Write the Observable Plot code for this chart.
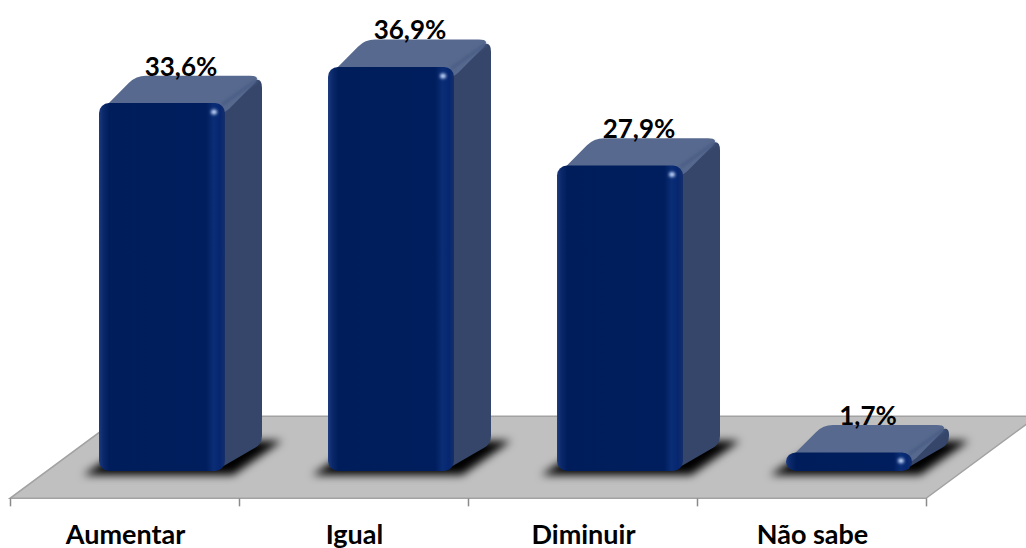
<!DOCTYPE html>
<html>
<head>
<meta charset="utf-8">
<script src="https://cdn.jsdelivr.net/npm/d3@7"></script>
<script src="https://cdn.jsdelivr.net/npm/@observablehq/plot@0.6"></script>
<style>
  html, body { margin: 0; padding: 0; background: #ffffff; overflow: hidden; }
  #chart svg { display: block; }
</style>
</head>
<body>
<div id="chart"></div>
<script>
// Survey answers and their shares (%)
const categories = ["Aumentar", "Igual", "Diminuir", "Não sabe"];
const values = [33.6, 36.9, 27.9, 1.7];
const valueLabels = ["33,6%", "36,9%", "27,9%", "1,7%"];

const data = categories.map((category, i) => ({category, value: values[i], label: valueLabels[i]}));

// Pseudo-3D depth: the floor is three column-depths deep, columns stand in the middle third
const FLOOR_DX = 111, FLOOR_DY = 82;
const DX = FLOOR_DX / 3, DY = FLOOR_DY / 3;
const NS = "http://www.w3.org/2000/svg";

function el(tag, attrs = {}, parent) {
  const node = document.createElementNS(NS, tag);
  for (const k in attrs) node.setAttribute(k, attrs[k]);
  if (parent) parent.appendChild(node);
  return node;
}

// Polygon path with rounded corners (one radius per corner)
function roundedPath(pts, radii) {
  const n = pts.length;
  let d = "";
  for (let i = 0; i < n; i++) {
    const r = Array.isArray(radii) ? radii[i] : radii;
    const p0 = pts[(i - 1 + n) % n], p1 = pts[i], p2 = pts[(i + 1) % n];
    const l1 = Math.hypot(p0[0] - p1[0], p0[1] - p1[1]);
    const l2 = Math.hypot(p2[0] - p1[0], p2[1] - p1[1]);
    const r1 = Math.min(r, l1 / 2), r2 = Math.min(r, l2 / 2);
    const a = [p1[0] + (p0[0] - p1[0]) / l1 * r1, p1[1] + (p0[1] - p1[1]) / l1 * r1];
    const b = [p1[0] + (p2[0] - p1[0]) / l2 * r2, p1[1] + (p2[1] - p1[1]) / l2 * r2];
    d += (i === 0 ? "M" : "L") + a[0] + "," + a[1] + "Q" + p1[0] + "," + p1[1] + " " + b[0] + "," + b[1];
  }
  return d + "Z";
}

// Gradients and filters shared by the marks
function defs() {
  const g = el("g");
  const d = el("defs", {}, g);
  const front = el("linearGradient", {id: "frontFace", x1: 0, x2: 1, y1: 0, y2: 0}, d);
  [["0%", "#1d3c82"], ["3%", "#0c2a6c"], ["8%", "#001d5b"], ["85%", "#001e5d"],
   ["91%", "#0a2d76"], ["96%", "#062670"], ["100%", "#162f6a"]]
    .forEach(([o, c]) => el("stop", {offset: o, "stop-color": c}, front));
  const blur = el("filter", {id: "shadowBlur", x: "-30%", y: "-60%", width: "160%", height: "220%"}, d);
  el("feGaussianBlur", {stdDeviation: 4.5}, blur);
  const soft = el("filter", {id: "softGlow", x: "-50%", y: "-200%", width: "200%", height: "500%"}, d);
  el("feGaussianBlur", {stdDeviation: 1.6}, soft);
  return g;
}

// Grey floor with the category separators along its front edge
function floor(index, {x, y}) {
  const g = el("g");
  const [x0, x1] = x.range();
  const yf = y(0) + DY, yb = y(0) + DY - FLOOR_DY;
  el("path", {
    d: `M${x0},${yf}L${x1},${yf}L${x1 + FLOOR_DX},${yb}L${x0 + FLOOR_DX},${yb}Z`,
    fill: "#c0c0c0", stroke: "#a2a2a2", "stroke-width": 1.5
  }, g);
  const step = x.step(), bw = x.bandwidth();
  const edges = categories.map(c => x(c) - (step - bw) / 2);
  edges.push(edges[edges.length - 1] + step);
  for (const e of edges) {
    el("line", {x1: e, x2: e, y1: yf, y2: yf + 8, stroke: "#8a8a8a", "stroke-width": 1.5}, g);
  }
  return g;
}

// Cast shadows of the columns on the floor
function shadows(index, {x, y}) {
  const g = el("g", {filter: "url(#shadowBlur)"});
  const bw = x.bandwidth(), y0 = y(0);
  for (const c of categories) {
    const xl = x(c) + DX, xr = xl + bw;
    el("path", {
      d: `M${xl - 16},${y0 + 4}L${xr + 8},${y0 + 4}L${xr + DX + 20},${y0 - DY - 3}L${xl + DX},${y0 - DY - 3}Z`,
      fill: "#000"
    }, g);
  }
  return g;
}

// Side and top faces of each column
function faces(index, {x, y}) {
  const g = el("g");
  const bw = x.bandwidth(), y0 = y(0);
  data.forEach(d => {
    const xl = x(d.category) + DX, xr = xl + bw, yt = y(d.value);
    el("path", {
      d: roundedPath([[xr - 10, yt], [xr + DX, yt - DY], [xr + DX, y0 - DY], [xr - 10, y0]], [0, 12, 8, 0]),
      fill: "#36466b"
    }, g);
    el("path", {
      d: roundedPath([[xl, yt + 10], [xr, yt + 10], [xr + DX, yt - DY], [xl + DX, yt - DY]], [6, 6, 12, 10]),
      fill: "#57698e"
    }, g);
    // soft bevel where the top meets the side
    el("path", {
      d: `M${xr - 2},${yt + 1}L${xr + DX - 6},${yt - DY + 5}`,
      stroke: "#4a5c84", "stroke-width": 3, "stroke-linecap": "round", filter: "url(#softGlow)"
    }, g);
  });
  return g;
}

// Gloss on the front faces: top rim and a small specular spot
function gloss(index, {x, y}) {
  const g = el("g");
  const bw = x.bandwidth();
  data.forEach(d => {
    const xl = x(d.category) + DX, xr = xl + bw, yt = y(d.value);
    const h = y(0) - yt;
    el("path", {
      d: `M${xl + 8},${yt + Math.min(7, h / 3)}L${xr - 8},${yt + Math.min(7, h / 3)}`,
      stroke: "#1f4291", "stroke-width": 2.5, opacity: 0.6, filter: "url(#softGlow)"
    }, g);
    el("ellipse", {
      cx: xr - 11, cy: yt + Math.min(9, h / 2.2), rx: 3, ry: 2.5,
      fill: "#c9dcff", filter: "url(#softGlow)"
    }, g);
  });
  return g;
}

const chart = Plot.plot({
  width: 1026,
  height: 548,
  marginLeft: 10,
  marginRight: 100,
  marginTop: 33,
  marginBottom: 77,
  style: {background: "transparent", overflow: "hidden", fontFamily: "Lato, 'Open Sans', sans-serif"},
  x: {type: "band", domain: categories, paddingInner: 0.45, paddingOuter: 0.225, axis: null},
  y: {domain: [0, 40], axis: null},
  marks: [
    defs,
    floor,
    shadows,
    faces,
    Plot.barY(data, {x: "category", y: "value", dx: DX, rx: 10, fill: "url(#frontFace)"}),
    gloss,
    Plot.text(data, {
      x: "category", y: "value", text: "label", dx: DX * 1.5, dy: -28,
      lineAnchor: "bottom", fontSize: 26, fontWeight: 700, fill: "#000"
    }),
    Plot.text(data, {
      x: "category", text: "category", frameAnchor: "bottom", dy: 72,
      lineAnchor: "bottom", fontSize: 27, fontWeight: 700, fill: "#000"
    })
  ]
});

document.getElementById("chart").appendChild(chart);
</script>
</body>
</html>
